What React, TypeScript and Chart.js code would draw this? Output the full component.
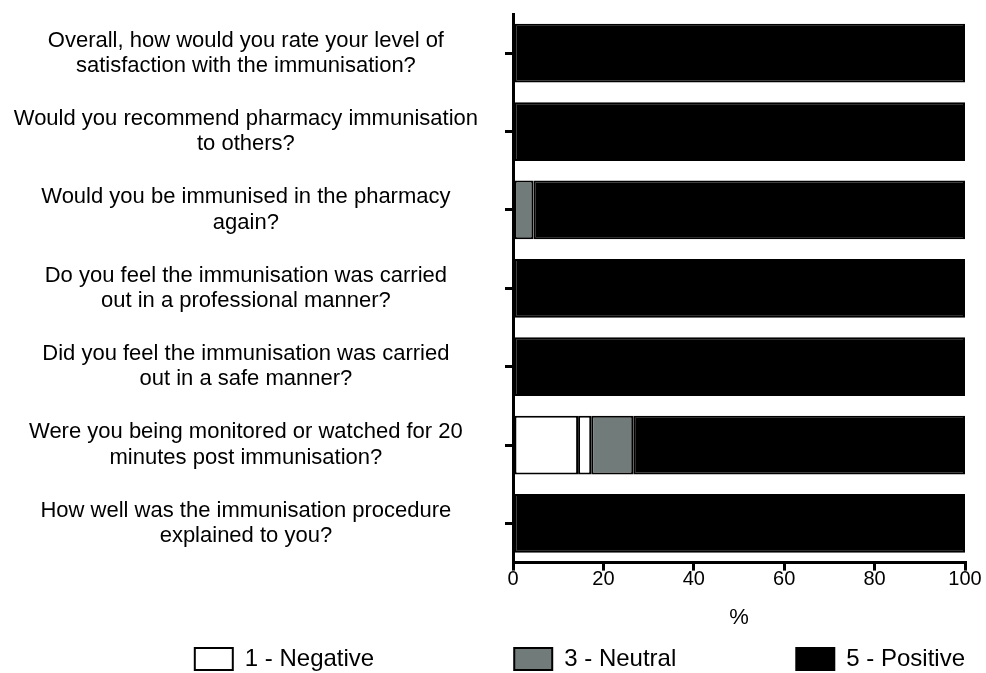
import React, { useEffect, useRef } from "react";
import { Chart, registerables } from "chart.js";

Chart.register(...registerables);

const categories: string[][] = [
  ["Overall, how would you rate your level of", "satisfaction with the immunisation?"],
  ["Would you recommend pharmacy immunisation", "to others?"],
  ["Would you be immunised in the pharmacy", "again?"],
  ["Do you feel the immunisation was carried", "out in a professional manner?"],
  ["Did you feel the immunisation was carried", "out in a safe manner?"],
  ["Were you being monitored or watched for 20", "minutes post immunisation?"],
  ["How well was the immunisation procedure", "explained to you?"],
];

const seriesNames = ["1 - Negative", "2", "3 - Neutral", "5 - Positive"];
const negative = [0, 0, 0, 0, 0, 14.4, 0];
const score2 = [0, 0, 0, 0, 0, 2.9, 0];
const neutral = [0, 0, 4.5, 0, 0, 9.3, 0];
const positive = [100, 100, 95.5, 100, 100, 73.4, 100];
const xTickValues = [0, 20, 40, 60, 80, 100];
const axisTitle = "%";

const FONT = "'Liberation Sans', Arial, Helvetica, sans-serif";

export default function App() {
  const ref = useRef<HTMLCanvasElement | null>(null);

  useEffect(() => {
    if (!ref.current) return;
    Chart.defaults.font.family = FONT;
    Chart.defaults.color = "#000";
    const trailing = [21, 0, 18, 0];
    const axisGrid = {
      display: true,
      drawOnChartArea: false,
      drawTicks: true,
      tickLength: 8,
      lineWidth: 3,
      color: "#000",
    };
    const axisBorder = { display: true, width: 3, color: "#000" };
    const chart = new Chart(ref.current, {
      type: "bar",
      data: {
        labels: categories,
        datasets: [
          { label: seriesNames[0], data: negative, backgroundColor: "#ffffff", borderColor: "#000", borderWidth: 2, borderSkipped: false },
          { label: seriesNames[1], data: score2, backgroundColor: "#ffffff", borderColor: "#000", borderWidth: 2, borderSkipped: false },
          { label: seriesNames[2], data: neutral, backgroundColor: "#717b79", borderColor: "#000", borderWidth: 2, borderSkipped: false },
          { label: seriesNames[3], data: positive, backgroundColor: "#000000", borderColor: "#000", borderWidth: 2, borderSkipped: false },
        ],
      },
      options: {
        indexAxis: "y",
        animation: false,
        responsive: false,
        datasets: { bar: { barPercentage: 1, categoryPercentage: 0.75 } },
        layout: { padding: { top: 14, right: 21, left: 13, bottom: -8 } },
        plugins: {
          tooltip: { enabled: false },
          legend: {
            position: "bottom",
            align: "end",
            labels: {
              boxWidth: 38,
              boxHeight: 22,
              padding: 0,
              color: "#000",
              font: { size: 24, family: FONT },
              filter: (item: any) => item.datasetIndex !== 1,
              generateLabels: (c: any) => {
                const items = (Chart.defaults.plugins.legend.labels as any).generateLabels(c);
                return items.map((it: any) => ({ ...it, text: it.text + " ".repeat(trailing[it.datasetIndex] || 0) }));
              },
            },
          },
        },
        scales: {
          x: {
            type: "linear",
            stacked: true,
            min: 0,
            max: 100,
            afterBuildTicks: (scale: any) => {
              scale.ticks = xTickValues.map((v) => ({ value: v }));
            },
            ticks: { font: { size: 20, family: FONT }, color: "#000", padding: -3 },
            grid: axisGrid,
            border: axisBorder,
            title: {
              display: true,
              text: axisTitle,
              color: "#000",
              font: { size: 22, family: FONT },
              padding: { top: 16, bottom: 16 },
            },
          },
          y: {
            type: "category",
            stacked: true,
            afterFit: (scale: any) => {
              scale.width = 500;
              scale.paddingTop = 0;
              scale.paddingBottom = 0;
            },
            ticks: {
              font: { size: 22, family: FONT, lineHeight: 1.15 },
              color: "#000",
              padding: 27,
              crossAlign: "center",
            },
            grid: { ...axisGrid, offset: false },
            border: axisBorder,
          },
        },
      } as any,
    });
    return () => chart.destroy();
  }, []);

  return (
    <div style={{ position: "absolute", left: 0, top: 0, width: 986, height: 673, background: "#fff" }}>
      <canvas ref={ref} width={986} height={673} />
    </div>
  );
}
